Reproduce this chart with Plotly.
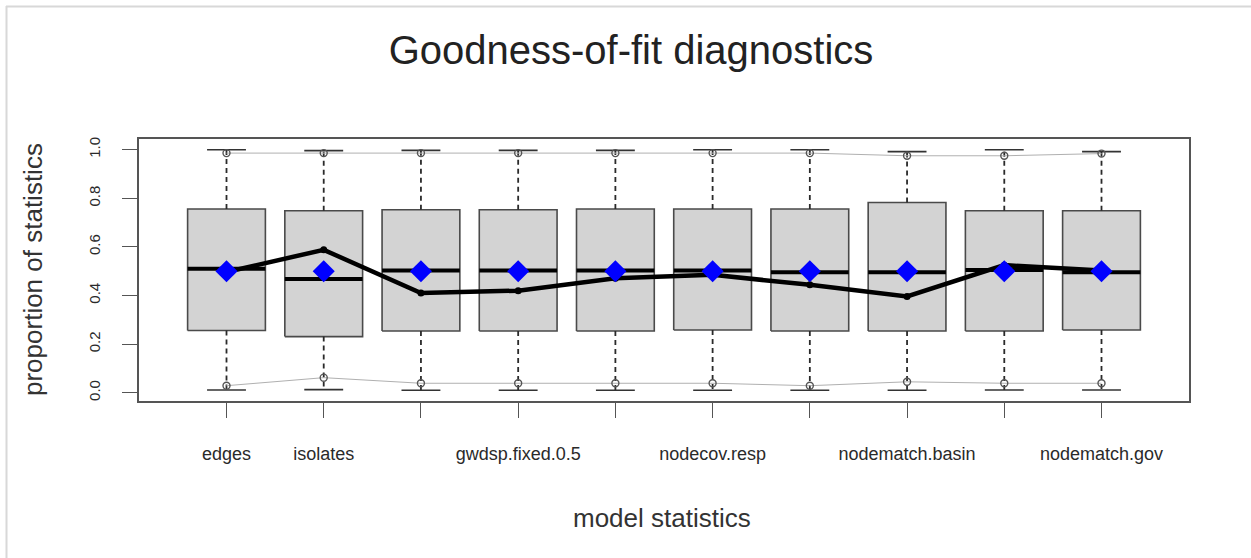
import plotly.graph_objects as go

# Model terms checked in the goodness-of-fit run
terms = ["edges", "isolates", "gwesp.fixed.0.5", "gwdsp.fixed.0.5", "nodecov.size",
         "nodecov.resp", "nodefactor.gov", "nodematch.basin", "nodecov.gov", "nodematch.gov"]
# Only every other label fits under the axis
shown_labels = ["edges", "isolates", "", "gwdsp.fixed.0.5", "",
                "nodecov.resp", "", "nodematch.basin", "", "nodematch.gov"]

# Simulated-statistic distribution, as proportions
q1 = [0.256, 0.231, 0.254, 0.254, 0.254, 0.258, 0.254, 0.254, 0.254, 0.258]
median = [0.510, 0.468, 0.503, 0.503, 0.503, 0.503, 0.496, 0.496, 0.505, 0.496]
q3 = [0.756, 0.749, 0.753, 0.753, 0.756, 0.756, 0.756, 0.783, 0.749, 0.749]
whisker_low = [0.011, 0.013, 0.010, 0.010, 0.010, 0.010, 0.010, 0.010, 0.011, 0.011]
whisker_high = [1.000, 0.996, 0.997, 0.997, 0.997, 1.000, 1.000, 0.992, 1.000, 0.992]
# 2.5% / 97.5% bounds
lower_bound = [0.029, 0.062, 0.039, 0.039, 0.039, 0.039, 0.029, 0.045, 0.039, 0.039]
upper_bound = [0.986, 0.986, 0.986, 0.986, 0.986, 0.986, 0.986, 0.975, 0.975, 0.984]
# Observed network statistics and the simulated means
observed = [0.497, 0.588, 0.410, 0.420, 0.471, 0.485, 0.444, 0.396, 0.525, 0.503]
sim_mean = [0.5] * 10

pos = list(range(1, len(terms) + 1))
half_box = 0.4
half_cap = 0.2


def segments(xs0, xs1, ys0, ys1):
    xs, ys = [], []
    for a, b, c, d in zip(xs0, xs1, ys0, ys1):
        xs += [a, b, None]
        ys += [c, d, None]
    return xs, ys


fig = go.Figure()

# box bodies
bx, by = [], []
for p, lo, hi in zip(pos, q1, q3):
    bx += [p - half_box, p + half_box, p + half_box, p - half_box, p - half_box, None]
    by += [lo, lo, hi, hi, lo, None]
fig.add_trace(go.Scatter(x=bx, y=by, mode="lines", fill="toself", fillcolor="#d3d3d3",
                         line=dict(color="#4a4a4a", width=1.6), hoverinfo="skip"))

# dashed whiskers
wx, wy = segments(pos + pos, pos + pos, q3 + q1, whisker_high + whisker_low)
fig.add_trace(go.Scatter(x=wx, y=wy, mode="lines",
                         line=dict(color="#2a2a2a", width=1.8, dash="5px,4px"), hoverinfo="skip"))

# whisker caps
cx, cy = segments([p - half_cap for p in pos] * 2, [p + half_cap for p in pos] * 2,
                  whisker_high + whisker_low, whisker_high + whisker_low)
fig.add_trace(go.Scatter(x=cx, y=cy, mode="lines",
                         line=dict(color="#333333", width=1.6), hoverinfo="skip"))

# medians
mx, my = segments([p - half_box for p in pos], [p + half_box for p in pos], median, median)
fig.add_trace(go.Scatter(x=mx, y=my, mode="lines",
                         line=dict(color="#000000", width=4), hoverinfo="skip"))

# bounds joined by thin grey lines
for bound in (upper_bound, lower_bound):
    fig.add_trace(go.Scatter(x=pos, y=bound, mode="lines+markers",
                             line=dict(color="#b0b0b0", width=1),
                             marker=dict(symbol="circle-open", size=7, color="#555555",
                                         line=dict(width=1.4)),
                             hoverinfo="skip"))

# observed statistics
fig.add_trace(go.Scatter(x=pos, y=observed, mode="lines+markers",
                         line=dict(color="#000000", width=4.5),
                         marker=dict(color="#000000", size=7)))

# simulated means
fig.add_trace(go.Scatter(x=pos, y=sim_mean, mode="markers",
                         marker=dict(symbol="diamond", color="#0000ff", size=17,
                                     line=dict(width=0))))

font = "Liberation Sans, Arial, sans-serif"
L, R, T, B = 139, 62, 139, 157
W, H = 1251, 558
pw, ph = W - L - R, H - T - B


def px(x):
    return (x - L) / pw


def py(y):
    return (H - B - y) / ph


fig.update_layout(
    width=W, height=H,
    margin=dict(l=L, r=R, t=T, b=B),
    paper_bgcolor="white", plot_bgcolor="white",
    showlegend=False,
    font=dict(family=font, color="#2a2a2a"),
    title=dict(text="Goodness-of-fit diagnostics", font=dict(size=40, color="#222222"),
               xref="paper", x=px(631), xanchor="center",
               yref="container", y=1 - 50 / H, yanchor="middle"),
    xaxis=dict(range=[0.1, 10.9], tickmode="array", tickvals=pos, ticktext=shown_labels,
               showgrid=False, zeroline=False, showline=True, mirror=True,
               linecolor="#555555", linewidth=1.6, ticks="outside", ticklen=15,
               tickcolor="#555555", tickwidth=1.4, tickfont=dict(size=18, color="#2a2a2a"),
               ticklabelstandoff=21),
    yaxis=dict(range=[-0.034, 1.044], tickmode="array", tickvals=[0, 0.2, 0.4, 0.6, 0.8, 1.0],
               ticktext=["0.0", "0.2", "0.4", "0.6", "0.8", "1.0"],
               showgrid=False, zeroline=False, showline=True, mirror=True,
               linecolor="#555555", linewidth=1.6, ticks="outside", ticklen=15,
               tickcolor="#555555", tickwidth=1.4, tickangle=-90,
               tickfont=dict(size=15, color="#2a2a2a"), ticklabelstandoff=16),
    annotations=[
        dict(text="proportion of statistics", xref="paper", yref="paper",
             x=px(33), y=0.5, textangle=-90, showarrow=False,
             xanchor="center", yanchor="middle", font=dict(size=26, color="#333333")),
        dict(text="model statistics", xref="paper", yref="paper",
             x=px(662), y=py(518), showarrow=False,
             xanchor="center", yanchor="middle", font=dict(size=26, color="#333333")),
    ],
    shapes=[
        dict(type="line", xref="paper", yref="paper", x0=px(6), x1=px(W), y0=py(6.5), y1=py(6.5),
             line=dict(color="#d8d8d8", width=2)),
        dict(type="line", xref="paper", yref="paper", x0=px(6.5), x1=px(6.5), y0=py(6), y1=py(H),
             line=dict(color="#d8d8d8", width=2)),
    ],
)

fig.write_html("out.html")
